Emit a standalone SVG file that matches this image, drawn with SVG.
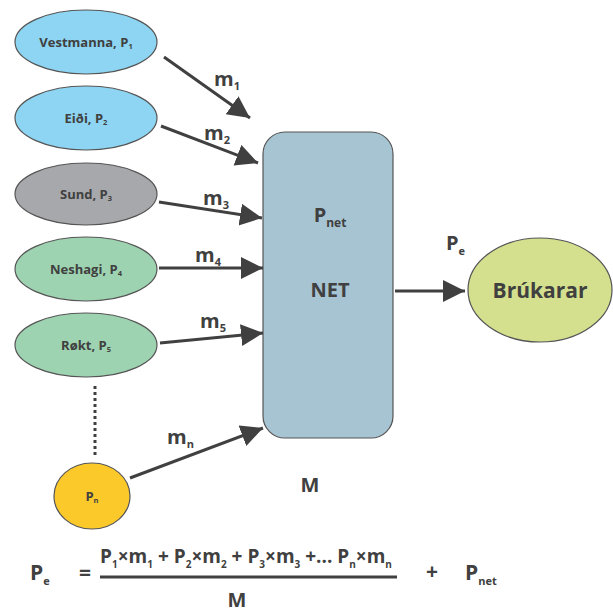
<svg xmlns="http://www.w3.org/2000/svg" width="613" height="613" viewBox="0 0 613 613">
<defs>
<marker id="ah" markerUnits="userSpaceOnUse" markerWidth="24" markerHeight="24" refX="22" refY="11" orient="auto">
<path d="M0,0 L22,11 L0,22 Z" fill="#404040"/>
</marker>
<style>
text{font-family:"Open Sans","Liberation Sans",sans-serif;font-weight:700;fill:#404040}
.n{stroke:#555;stroke-width:1.2}
.lbl{font-size:13px;text-anchor:middle}
.sub{font-size:7.5px}
.m{font-size:20px}
.msub{font-size:11px}
.ms{font-size:12px}
.c line{stroke:#404040;stroke-width:3;marker-end:url(#ah)}
</style>
</defs>
<rect width="613" height="613" fill="#fff"/>
<g id="vestmanna"><ellipse class="n" cx="86" cy="42" rx="71" ry="32" fill="#8DD5F2"/><text class="lbl" x="86" y="47">Vestmanna, P<tspan class="sub" dy="2">1</tspan></text></g>
<g id="eidi"><ellipse class="n" cx="86" cy="118" rx="71" ry="32" fill="#8DD5F2"/><text class="lbl" x="86" y="123">Eiði, P<tspan class="sub" dy="2">2</tspan></text></g>
<g id="sund"><ellipse class="n" cx="86" cy="194" rx="71" ry="31" fill="#A7A8AB"/><text class="lbl" x="86" y="199">Sund, P<tspan class="sub" dy="2">3</tspan></text></g>
<g id="neshagi"><ellipse class="n" cx="86" cy="269" rx="71" ry="32" fill="#9ED3B1"/><text class="lbl" x="86" y="274">Neshagi, P<tspan class="sub" dy="2">4</tspan></text></g>
<g id="rokt"><ellipse class="n" cx="86" cy="345" rx="71" ry="32" fill="#9ED3B1"/><text class="lbl" x="86" y="350">Røkt, P<tspan class="sub" dy="2">5</tspan></text></g>
<g id="pn"><ellipse class="n" cx="92" cy="496" rx="38" ry="33" fill="#FCC92B"/><text class="lbl" x="92" y="501">P<tspan class="sub" dy="2">n</tspan></text></g>
<g id="net"><rect class="n" x="263" y="132" width="130" height="306" rx="22" fill="#A7C4D3"/>
<text x="330" y="222" font-size="20" text-anchor="middle">P<tspan class="ms" dy="5">net</tspan></text>
<text x="330" y="297" font-size="20" text-anchor="middle">NET</text></g>
<g id="brukarar"><ellipse class="n" cx="540" cy="290" rx="72" ry="52" fill="#D4E08D"/><text x="540" y="298" font-size="21" text-anchor="middle">Brúkarar</text></g>
<g id="connectors" class="c">
<line x1="164" y1="57" x2="250" y2="118"/>
<line x1="161" y1="126" x2="258" y2="163"/>
<line x1="159" y1="202" x2="262" y2="218"/>
<line x1="159" y1="268" x2="263" y2="268"/>
<line x1="160" y1="343" x2="263" y2="333"/>
<line x1="130" y1="478" x2="263" y2="428"/>
<line x1="395" y1="291" x2="465" y2="291"/>
<path d="M95,386 L95,456" stroke="#404040" stroke-width="3" stroke-dasharray="3,3" fill="none"/>
</g>
<g id="labels">
<text class="m" x="214" y="86">m<tspan class="msub" dy="4">1</tspan></text>
<text class="m" x="204" y="140">m<tspan class="msub" dy="4">2</tspan></text>
<text class="m" x="203" y="205">m<tspan class="msub" dy="4">3</tspan></text>
<text class="m" x="195" y="262">m<tspan class="msub" dy="4">4</tspan></text>
<text class="m" x="200" y="328">m<tspan class="msub" dy="4">5</tspan></text>
<text class="m" x="167" y="444">m<tspan class="msub" dy="4">n</tspan></text>
<text x="446" y="250" font-size="20">P<tspan font-size="11" dy="5">e</tspan></text>
<text x="310" y="492" font-size="20" text-anchor="middle">M</text>
</g>
<g id="formula">
<text x="30" y="580" font-size="21">P<tspan font-size="11" dy="5">e</tspan></text>
<text x="85" y="580" font-size="21" text-anchor="middle">=</text>
<text x="246" y="563" font-size="19" text-anchor="middle">P<tspan font-size="10" dy="5">1</tspan><tspan dy="-5">×m</tspan><tspan font-size="10" dy="5">1</tspan><tspan dy="-5"> + P</tspan><tspan font-size="10" dy="5">2</tspan><tspan dy="-5">×m</tspan><tspan font-size="10" dy="5">2</tspan><tspan dy="-5"> + P</tspan><tspan font-size="10" dy="5">3</tspan><tspan dy="-5">×m</tspan><tspan font-size="10" dy="5">3</tspan><tspan dy="-5"> +... P</tspan><tspan font-size="10" dy="5">n</tspan><tspan dy="-5">×m</tspan><tspan font-size="10" dy="5">n</tspan></text>
<line x1="100" y1="577" x2="397" y2="577" stroke="#404040" stroke-width="3"/>
<text x="237" y="607" font-size="20" text-anchor="middle">M</text>
<text x="432" y="579" font-size="21" text-anchor="middle">+</text>
<text x="465" y="580" font-size="21">P<tspan font-size="11" dy="5">net</tspan></text>
</g>
</svg>
